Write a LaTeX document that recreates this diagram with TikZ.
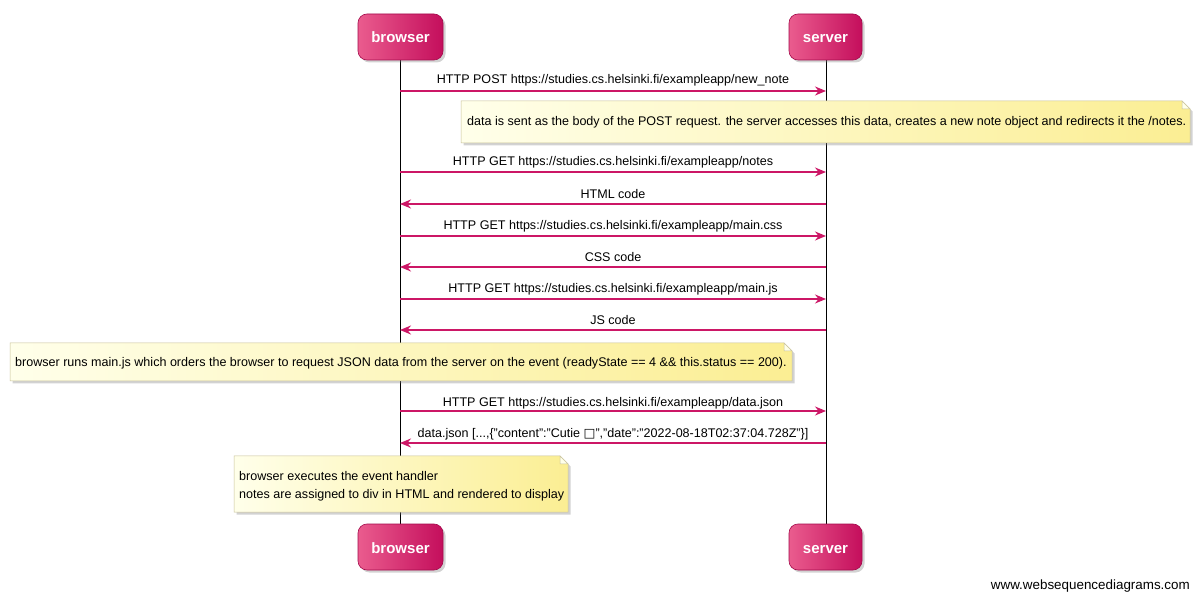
\documentclass[tikz,border=0pt]{standalone}
\usepackage{fontspec}
\setmainfont{Liberation Sans}
\newfontfamily\dejavu{DejaVu Sans}
\usetikzlibrary{arrows.meta,shadows,calc}
\definecolor{msgcol}{HTML}{CC1766}
\definecolor{partlight}{HTML}{EA5C8E}
\definecolor{partdark}{HTML}{C40E5C}
\definecolor{partborder}{HTML}{A30A4B}
\definecolor{notelight}{HTML}{FFFFEA}
\definecolor{notedark}{HTML}{FBEE93}
\definecolor{noteborder}{HTML}{C9C29A}
\tikzset{
  part/.style={rounded corners=9pt, minimum width=#1, minimum height=46pt,
    left color=partlight, right color=partdark, draw=partborder, line width=0.6pt,
    text=white, font=\fontsize{15}{18}\selectfont\bfseries, inner sep=0pt,
    text height=13pt, text depth=1pt,
    drop shadow={shadow xshift=2.5pt, shadow yshift=-2.5pt, opacity=0.35}},
  life/.style={draw=black, line width=0.9pt},
  msg/.style={draw=msgcol, line width=1.5pt, -{Stealth[length=11pt,width=9pt]}},
  lbl/.style={font=\fontsize{12.55}{15}\selectfont, inner sep=0pt, text=black},
  notebody/.style={left color=notelight, right color=notedark, draw=noteborder, line width=0.5pt,
    drop shadow={shadow xshift=2.5pt, shadow yshift=-2.5pt, opacity=0.35}},
  notefold/.style={draw=noteborder, line width=0.5pt, fill=notelight},
  notetxt/.style={font=\fontsize{12.55}{18}\selectfont, inner sep=0pt, anchor=west, align=left},
}
\newcommand\wsdnote[4]{%
  \path[notebody] (#1,#2) -- ({#3-8},#2) -- (#3,{#2+8}) -- (#3,#4) -- (#1,#4) -- cycle;
  \draw[notefold] ({#3-8},#2) -- ({#3-8},{#2+8}) -- (#3,{#2+8}) -- cycle;
}
\begin{document}
\begin{tikzpicture}[x=1pt,y=-1pt]
\useasboundingbox[fill=white] (0,0) rectangle (1200,601);
% lifelines first
\coordinate (bt) at (400,60);
\coordinate (bb) at (400,524);
\coordinate (st) at (826,60);
\coordinate (sb) at (826,524);
\draw[life] (bt) -- (bb);
\draw[life] (st) -- (sb);
% participants
\node[part=85pt] (browserTop) at (400.5,37) {browser};
\node[part=73pt] (serverTop) at (825.5,37) {server};
\node[part=85pt] (browserBot) at (400.5,547) {browser};
\node[part=73pt] (serverBot) at (825.5,547) {server};
% messages
\foreach \n/\y in {1/91,2/172,3/204,4/236,5/267,6/299,7/330,8/411,9/443}{
  \coordinate (b\n) at (400,\y);
  \coordinate (s\n) at (826,\y);
}
\draw[msg] (b1) -- (s1) node[lbl, midway, yshift=11pt] {HTTP POST https://studies.cs.helsinki.fi/exampleapp/new\_note};
\wsdnote{461}{101}{1190}{143}
\node[notetxt] (note1) at (467,122.5) {data is sent as the body of the POST request. the server accesses this data, creates a new note object and redirects it the /notes.};
\draw[msg] (b2) -- (s2) node[lbl, midway, yshift=9.5pt] {HTTP GET https://studies.cs.helsinki.fi/exampleapp/notes};
\draw[msg] (s3) -- (b3) node[lbl, midway, yshift=9.5pt] {HTML code};
\draw[msg] (b4) -- (s4) node[lbl, midway, yshift=9.5pt] {HTTP GET https://studies.cs.helsinki.fi/exampleapp/main.css};
\draw[msg] (s5) -- (b5) node[lbl, midway, yshift=9.5pt] {CSS code};
\draw[msg] (b6) -- (s6) node[lbl, midway, yshift=9.5pt] {HTTP GET https://studies.cs.helsinki.fi/exampleapp/main.js};
\draw[msg] (s7) -- (b7) node[lbl, midway, yshift=9.5pt] {JS code};
\wsdnote{10}{343}{792}{381}
\node[notetxt] (note2) at (15,363.5) {browser runs main.js which orders the browser to request JSON data from the server on the event (readyState == 4 \&\& this.status == 200).};
\draw[msg] (b8) -- (s8) node[lbl, midway, yshift=8pt] {HTTP GET https://studies.cs.helsinki.fi/exampleapp/data.json};
\draw[msg] (s9) -- (b9) node[lbl, midway, yshift=9pt] {data.json [...,\{"content":"Cutie {\dejavu □}","date":"2022-08-18T02:37:04.728Z"\}]};
\wsdnote{234}{456}{568}{512}
\node[notetxt] (note3) at (239,486.5) {browser executes the event handler\\notes are assigned to div in HTML and rendered to display};
% footer
\node[font=\fontsize{13.4}{16}\selectfont, anchor=east, inner sep=0pt] (footer) at (1190,586) {www.websequencediagrams.com};
\end{tikzpicture}
\end{document}
